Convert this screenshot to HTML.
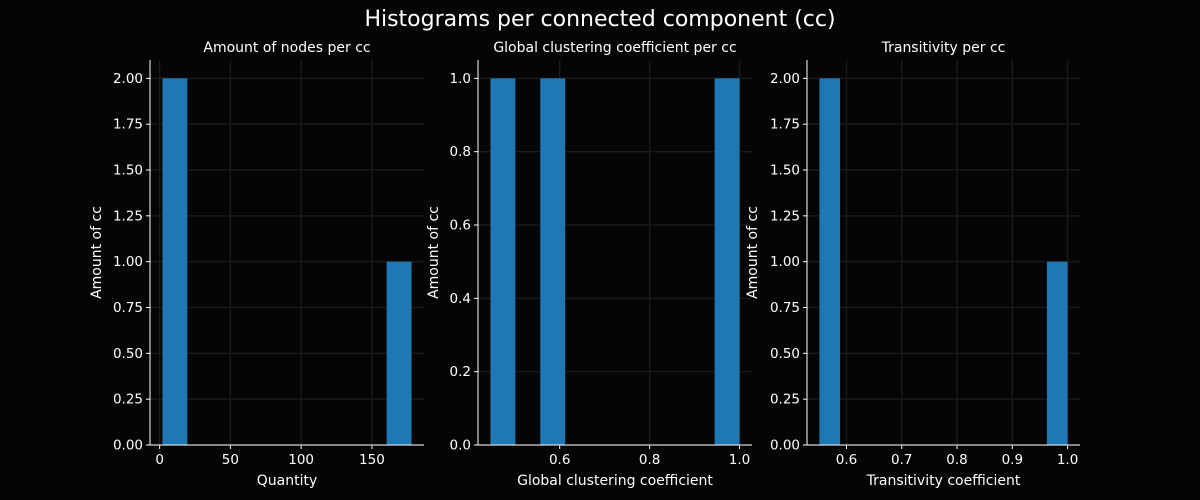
<!DOCTYPE html>
<html><head><meta charset="utf-8"><style>
html,body{margin:0;padding:0;background:#050505;}
svg{display:block;font-family:"DejaVu Sans","Liberation Sans",sans-serif;}
</style></head><body>
<svg id="fig" width="1200" height="500" viewBox="0 0 1200 500">
<rect width="1200" height="500" fill="#050505"/>
<text x="600" y="26" text-anchor="middle" fill="#fff" font-size="22">Histograms per connected component (cc)</text>
</svg>
<script>
const nodesData = [2, 5, 178];
const clusteringData = [0.446, 0.58, 1.0];
const transitivityData = [0.551, 0.56, 1.0];
const nodesXTicks = [0, 50, 100, 150];
const clusteringXTicks = [0.6, 0.8, 1.0];
const transitivityXTicks = [0.6, 0.7, 0.8, 0.9, 1.0];
const countTicks2 = [0, 0.25, 0.5, 0.75, 1.0, 1.25, 1.5, 1.75, 2.0];
const countTicks1 = [0, 0.2, 0.4, 0.6, 0.8, 1.0];
const binCounts = [10, 10, 12];
const titles = ["Amount of nodes per cc", "Global clustering coefficient per cc", "Transitivity per cc"];
const xLabels = ["Quantity", "Global clustering coefficient", "Transitivity coefficient"];

const svg = document.getElementById('fig');
const NS = 'http://www.w3.org/2000/svg';
function mk(tag, attrs, parent){const e=document.createElementNS(NS,tag);for(const k in attrs)e.setAttribute(k,attrs[k]);(parent||svg).appendChild(e);return e;}

const panels = [
 {data:nodesData, xt:nodesXTicks, yt:countTicks2, x0:150, x1:424, fmtx:v=>String(v), fmty:v=>v.toFixed(2), ylx:96},
 {data:clusteringData, xt:clusteringXTicks, yt:countTicks1, x0:478, x1:752, fmtx:v=>v.toFixed(1), fmty:v=>v.toFixed(1), ylx:433},
 {data:transitivityData, xt:transitivityXTicks, yt:countTicks2, x0:807, x1:1080, fmtx:v=>v.toFixed(1), fmty:v=>v.toFixed(2), ylx:752},
];
const yTop=60, yBot=445;
panels.forEach((p,i)=>{
  const g=mk('g',{});
  
  
  const mn=Math.min(...p.data), mx=Math.max(...p.data), nb=binCounts[i], bw=(mx-mn)/nb;
  const counts=new Array(nb).fill(0);
  p.data.forEach(v=>{let k=Math.floor((v-mn)/bw);if(k>=nb)k=nb-1;counts[k]++;});
  const m=(mx-mn)*0.05, xl=mn-m, xr=mx+m;
  const ymax=Math.max(...counts)*1.05;
  const sx=v=>p.x0+(v-xl)/(xr-xl)*(p.x1-p.x0);
  const sy=v=>yBot-(v/ymax)*(yBot-yTop);
  p.xt.forEach(t=>{const x=sx(t);
    const l=mk('line',{x1:x,x2:x,y1:yTop,y2:yBot,stroke:'#1a1a1a','stroke-width':1.5},g);
    
    mk('line',{x1:x,x2:x,y1:yBot,y2:yBot+4,stroke:'#fff'},g);
    const tx=mk('text',{x:x,y:yBot+19,'text-anchor':'middle',fill:'#fff','font-size':13.5},g);tx.textContent=p.fmtx(t);
    
  });
  p.yt.forEach(t=>{const y=sy(t);
    const l=mk('line',{x1:p.x0,x2:p.x1,y1:y,y2:y,stroke:'#1a1a1a','stroke-width':1.5},g);
    
    mk('line',{x1:p.x0-4,x2:p.x0,y1:y,y2:y,stroke:'#fff'},g);
    const tx=mk('text',{x:p.x0-7,y:y+4.5,'text-anchor':'end',fill:'#fff','font-size':13.5},g);tx.textContent=p.fmty(t);
    
  });
  counts.forEach((c,k)=>{if(!c)return;
    const a=sx(mn+k*bw), b=sx(mn+(k+1)*bw);
    const r=mk('rect',{x:a,y:sy(c),width:b-a,height:yBot-sy(c),fill:'#1f77b4'},g);
    
  });
  mk('line',{x1:p.x0,x2:p.x0,y1:yTop,y2:yBot,stroke:'#fff'},g);
  mk('line',{x1:p.x0,x2:p.x1,y1:yBot,y2:yBot,stroke:'#fff'},g);
  const cx=(p.x0+p.x1)/2;
  const t=mk('text',{x:cx,y:52,'text-anchor':'middle',fill:'#fff','font-size':14},g);t.textContent=titles[i];
  
  const xlb=mk('text',{x:cx,y:485,'text-anchor':'middle',fill:'#fff','font-size':14},g);xlb.textContent=xLabels[i];
  
  const ylb=mk('text',{x:p.ylx+5,y:(yTop+yBot)/2,'text-anchor':'middle',fill:'#fff','font-size':14,transform:`rotate(-90 ${p.ylx+5} ${(yTop+yBot)/2})`},g);ylb.textContent='Amount of cc';
  
});
</script>
</body></html>
